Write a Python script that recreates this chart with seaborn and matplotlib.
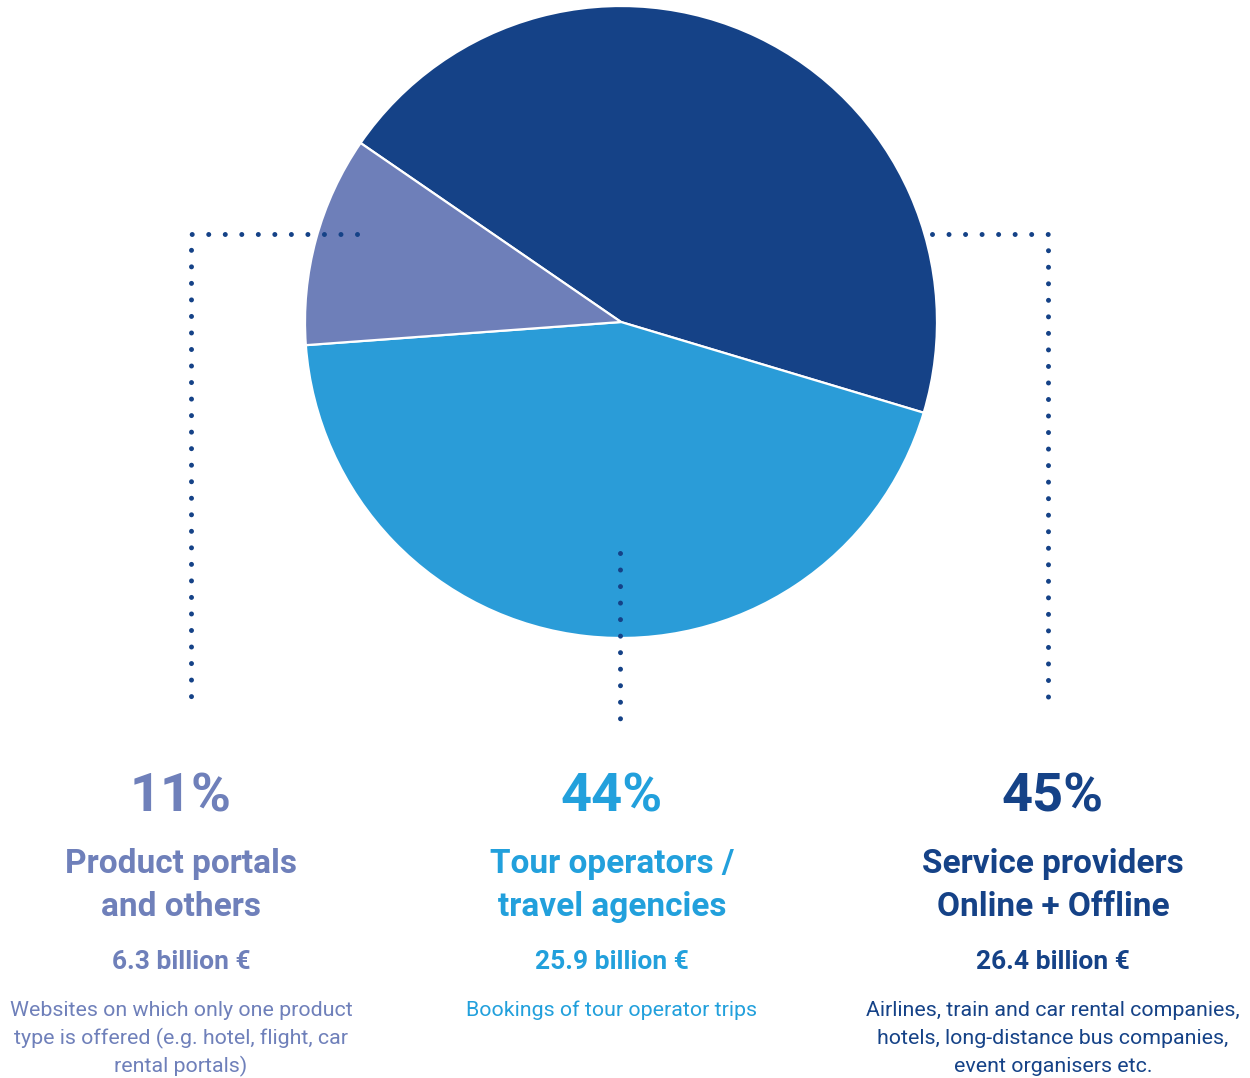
import matplotlib
matplotlib.use("Agg")
import matplotlib.pyplot as plt
import seaborn as sns

# Market shares of travel distribution channels
segments = ["Service providers", "Tour operators / travel agencies", "Product portals and others"]
volumes_bn = [26.4, 25.9, 6.3]
shares_pct = ["45%", "44%", "11%"]
title_lines = [["Service providers", "Online + Offline"],
               ["Tour operators /", "travel agencies"],
               ["Product portals", "and others"]]
amount_labels = ["26.4 billion €", "25.9 billion €", "6.3 billion €"]
descriptions = [["Airlines, train and car rental companies,",
                 "hotels, long-distance bus companies,",
                 "event organisers etc."],
                ["Bookings of tour operator trips"],
                ["Websites on which only one product",
                 "type is offered (e.g. hotel, flight, car",
                 "rental portals)"]]
palette = ["#154287", "#2a9cd8", "#6e7fb9"]
text_colors = ["#154287", "#22a0dc", "#6f80ba"]
dot_color = "#154287"

sns.set_theme(style="white")
plt.rcParams["font.family"] = ["Roboto", "DejaVu Sans"]
plt.rcParams["lines.scale_dashes"] = False

W, H = 1250, 1078
fig = plt.figure(figsize=(W / 100, H / 100), dpi=100)
ax = fig.add_axes([0, 0, 1, 1])
ax.set_xlim(0, W)
ax.set_ylim(0, H)
ax.set_aspect("equal")
ax.axis("off")


def y(py):
    """Convert a top-down pixel row into the axis coordinate."""
    return H - py


cx, cy, r = 621, 322, 316
ax.pie(volumes_bn, colors=palette, startangle=145.5, counterclock=False,
       center=(cx, y(cy)), radius=r,
       wedgeprops=dict(edgecolor="white", linewidth=1.6))
ax.set_xlim(0, W)
ax.set_ylim(0, H)

# Dotted leader lines
dot_kw = dict(color=dot_color, linewidth=3.6, dash_capstyle="round",
              linestyle=(0, (0.001, 11.9)))
ax.plot([357, 191, 191], [y(234), y(234), y(697)], **dot_kw)
ax.plot([620, 620], [y(553), y(722)], **dot_kw)
ax.plot([932, 1048, 1048], [y(234), y(234), y(697)], **dot_kw)

# Column labels: right, middle, left
col_x = [1053, 612, 181]
for i in range(3):
    c = text_colors[i]
    x = col_x[i]
    ax.text(x, y(812), shares_pct[i], ha="center", va="baseline",
            fontsize=39, fontweight="bold", color=c)
    for j, line in enumerate(title_lines[i]):
        ax.text(x, y(873 + 43 * j), line, ha="center", va="baseline",
                fontsize=24, fontweight="bold", color=c)
    ax.text(x, y(969), amount_labels[i], ha="center", va="baseline",
            fontsize=19, fontweight="bold", color=c)
    for j, line in enumerate(descriptions[i]):
        ax.text(x, y(1016 + 28 * j), line, ha="center", va="baseline",
                fontsize=15.4, color=c)

fig.savefig("out.png", dpi=100, facecolor="white")
